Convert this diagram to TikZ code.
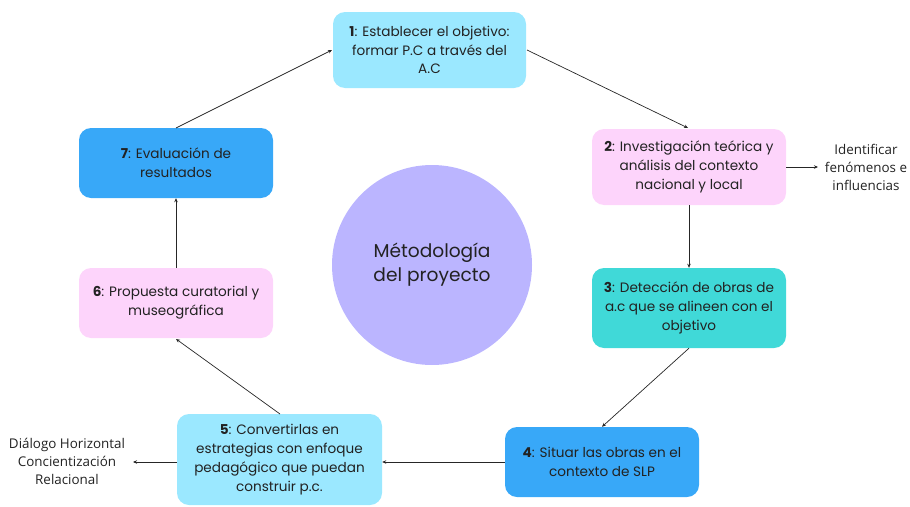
\documentclass[tikz,border=0pt]{standalone}
\usepackage{fontspec}
\setmainfont{Poppins}
\newfontfamily\sidefont{Open Sans}
\usetikzlibrary{arrows.meta}
\definecolor{cyanbox}{RGB}{155,232,255}
\definecolor{pinkbox}{RGB}{253,212,251}
\definecolor{tealbox}{RGB}{64,217,216}
\definecolor{bluebox}{RGB}{56,168,248}
\definecolor{lavender}{RGB}{187,181,255}
\definecolor{txt}{RGB}{34,34,34}
\tikzset{
  stepbox/.style={rounded corners=12pt, minimum width=194pt, minimum height=70pt, align=center, text=txt, font=\fontsize{13.6}{18.8}\selectfont, inner sep=2pt},
  conn/.style={-{Stealth[length=4pt,width=3.5pt]}, line width=0.7pt, draw=black!85},
  sidelabel/.style={align=center, text=txt, font=\sidefont\fontsize{13.4}{18}\selectfont}
}
\begin{document}
\begin{tikzpicture}[x=1pt,y=-1pt]
\useasboundingbox (0,0) rectangle (910,506);
\node[circle, fill=lavender, minimum size=200pt, inner sep=0pt, align=center, text=txt, font=\fontsize{18.6}{24}\selectfont] (c) at (432,265) {Métodología\\del proyecto};
\node[stepbox, fill=cyanbox, minimum height=76pt, minimum width=193pt] (s1) at (429.5,50) {\textbf{1}: Establecer el objetivo:\\formar P.C a través del\\A.C};
\node[stepbox, fill=pinkbox, minimum height=76pt] (s2) at (689,167) {\textbf{2}: Investigación teórica y\\análisis del contexto\\nacional y local};
\node[stepbox, fill=tealbox, minimum height=80pt] (s3) at (689,308) {\textbf{3}: Detección de obras de\\a.c que se alineen con el\\objetivo};
\node[stepbox, fill=bluebox] (s4) at (602,462) {\textbf{4}: Situar las obras en el\\contexto de SLP};
\node[stepbox, fill=cyanbox, minimum width=205pt, minimum height=91pt] (s5) at (279.5,459.5) {\textbf{5}: Convertirlas en\\estrategias con enfoque\\pedagógico que puedan\\construir p.c.};
\node[stepbox, fill=pinkbox] (s6) at (176,303) {\textbf{6}: Propuesta curatorial y\\museográfica};
\node[stepbox, fill=bluebox] (s7) at (176,163) {\textbf{7}: Evaluación de\\resultados};
\node[sidelabel] (l2) at (866,167) {Identificar\\fenómenos e\\influencias};
\node[sidelabel] (l5) at (67,461) {Diálogo Horizontal\\Concientización\\Relacional};
\coordinate (a1) at (527,50);
\coordinate (b2) at (688,128);
\draw[conn] (a1) -- (b2);
\draw[conn] (s2.south) -- (s3.north);
\draw[conn] (s3.south) -- (s4.north);
\draw[conn] (s4.west) -- (s5.east |- s4.west);
\coordinate (a5) at (280,414);
\coordinate (b6) at (176,339);
\draw[conn] (a5) -- (b6);
\draw[conn] (s6.north) -- (s7.south);
\coordinate (a7) at (176,128);
\coordinate (b1) at (332,50);
\draw[conn] (a7) -- (b1);
\draw[conn] (s2.east) -- (818,167);
\draw[conn] (s5.west |- 0,462) -- (133,462);
\end{tikzpicture}
\end{document}
